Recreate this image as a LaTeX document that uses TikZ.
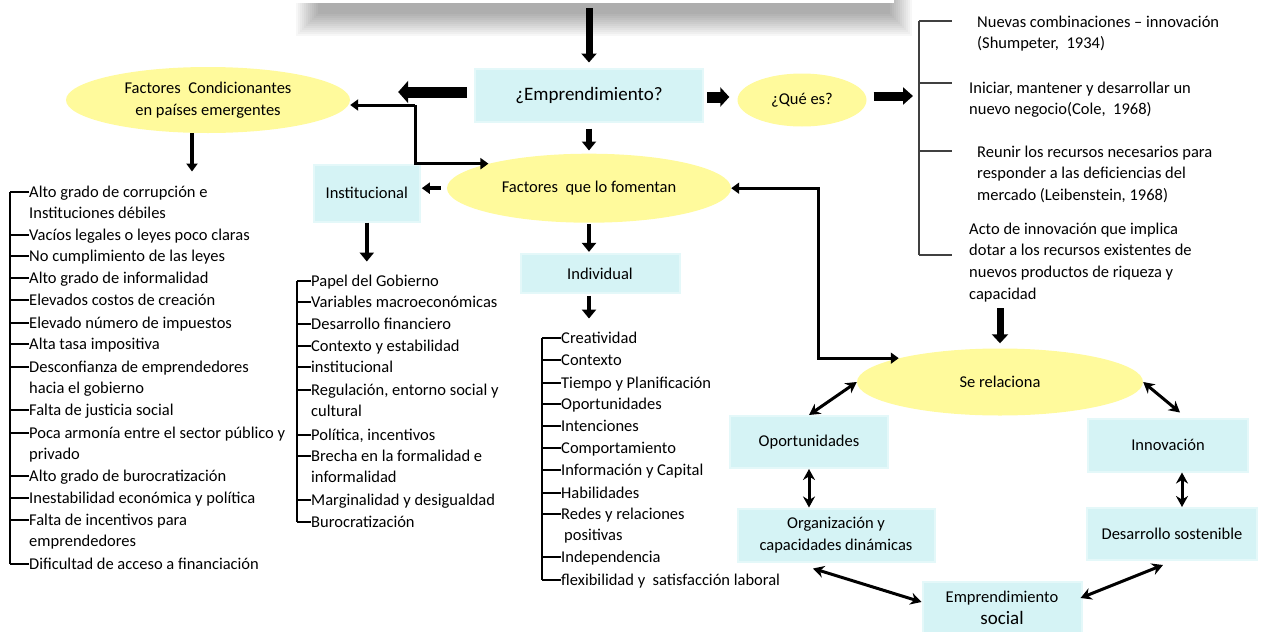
\documentclass[tikz,border=0pt]{standalone}
\usepackage{fontspec}
\setmainfont{Carlito}
\usetikzlibrary{arrows.meta}
\usetikzlibrary{positioning}
\usetikzlibrary{shapes.geometric}
\usetikzlibrary{calc}
\definecolor{celeste}{HTML}{D5F3F5}
\definecolor{celesteborde}{HTML}{E4F8F9}
\definecolor{amarillo}{HTML}{FFFA9C}
\newcommand{\cuerpo}{\fontsize{16.5}{21.8}\selectfont}
\newcommand{\grande}{\fontsize{19}{22}\selectfont}
\newcommand{\renglones}[1]{\begin{tabular}[t]{@{}l@{}}#1\end{tabular}}
\tikzstyle{cuadro} = [rectangle, fill=celeste, draw=celesteborde, line width=2pt,
    align=center, inner sep=2pt]
\tikzstyle{ovalo} = [ellipse, fill=amarillo, align=center, inner sep=0pt]
\tikzstyle{punto} = [anchor=base west, inner sep=0pt]
\tikzstyle{rama} = [line width=1.1pt]
\tikzstyle{flecha} = [->, line width=3.5pt]
\tikzstyle{recta} = [-{Triangle[length=9pt,width=14pt]}, line width=5pt]
\tikzstyle{bloque} = [-{Triangle[length=10pt,width=22pt]}, line width=11pt]
\tikzstyle{doble} = [{Stealth[length=11pt,width=12pt]}-{Stealth[length=11pt,width=12pt]}, line width=3pt]

\begin{document}
\begin{tikzpicture}[x=1pt, y=-1pt, >={Triangle[length=8pt,width=11pt]},
    every node/.style={font=\cuerpo}]
    \useasboundingbox (0,0) rectangle (1264,632);

    % cuadro de arriba con su sombra
    \foreach \k in {0,...,11}
        \fill[black, opacity=0.03] (296+2*\k,-10) rectangle (912-2*\k,36-2*\k);
    \node[rectangle, fill=white, minimum width=604pt, minimum height=30pt] (titulo) at (592,-12) {};

    \node[cuadro, minimum width=228pt, minimum height=53pt, font=\grande] (emp) at (589,95) {¿Emprendimiento?};
    \node[ovalo, minimum width=129pt, minimum height=53pt] (que) at (802,100) {¿Qué es?};
    \node[ovalo, minimum width=284pt, minimum height=66pt] (cond) at (208,100) {Factores\ \ Condicionantes\\en países emergentes};
    \node[ovalo, below=31pt of emp, minimum width=284pt, minimum height=69pt] (fom) {Factores\ \ que lo fomentan};
    \node[cuadro, left=26pt of fom, yshift=-5pt, minimum width=106pt, minimum height=57pt] (inst) {Institucional};
    \node[cuadro, below=30pt of fom, xshift=11pt, minimum width=159pt, minimum height=39pt] (ind) {Individual};

    \node[ovalo, minimum width=286pt, minimum height=67pt] (serel) at (1000,382) {Se relaciona};
    \node[cuadro, minimum width=158pt, minimum height=52pt] (opp) at (809,442) {Oportunidades};
    \node[cuadro, minimum width=197pt, minimum height=53pt] (org) at (836,535) {Organización y\\capacidades dinámicas};
    \node[cuadro, minimum width=160pt, minimum height=53pt] (inn) at (1168,445) {Innovación};
    \node[cuadro, minimum width=170pt, minimum height=52pt] (des) at (1172,534) {Desarrollo sostenible};
    \node[cuadro, minimum width=159pt, minimum height=52pt] (soc) at (1002,608) {Emprendimiento\\{\grande social}};

    % listas
    \foreach \y/\txt [count=\n] in {192/{Alto grado de corrupción e\\Instituciones débiles},
        235/{Vacíos legales o leyes poco claras}, 256/{No cumplimiento de las leyes},
        278/{Alto grado de informalidad}, 300/{Elevados costos de creación},
        323/{Elevado número de impuestos}, 344/{Alta tasa impositiva},
        367/{Desconfianza de emprendedores\\hacia el gobierno}, 410/{Falta de justicia social},
        433/{Poca armonía entre el sector público y\\privado}, 476/{Alto grado de burocratización},
        498/{Inestabilidad económica y política}, 520/{Falta de incentivos para\\emprendedores},
        564/{Dificultad de acceso a financiación}}
    {
        \node[punto] (izq\n) at (29,\y+5) {\renglones{\txt}};
        \draw[rama] ([yshift=5pt]izq\n.base west) -- ++(-19,0);
    }
    \draw[rama] ([shift={(-19pt,5pt)}]izq1.base west) -- ([shift={(-19pt,5pt)}]izq14.base west);

    \foreach \y/\txt [count=\n] in {281/{Papel del Gobierno}, 302/{Variables macroeconómicas},
        324/{Desarrollo financiero}, 346/{Contexto y estabilidad}, 367/{institucional},
        390/{Regulación, entorno social y\\cultural}, 435/{Política, incentivos},
        456/{Brecha en la formalidad e\\informalidad}, 500/{Marginalidad y desigualdad},
        522/{Burocratización}}
    {
        \node[punto] (ins\n) at (311,\y+5) {\renglones{\txt}};
        \draw[rama] ([yshift=5pt]ins\n.base west) -- ++(-14,0);
    }
    \draw[rama] ([shift={(-14pt,5pt)}]ins1.base west) -- ([shift={(-14pt,5pt)}]ins10.base west);

    \foreach \y/\txt [count=\n] in {338/{Creatividad}, 360/{Contexto},
        383/{Tiempo y Planificación}, 404/{Oportunidades}, 426/{Intenciones},
        448/{Comportamiento}, 470/{Información y Capital}, 493/{Habilidades},
        514/{Redes y relaciones\\\hspace{3pt}positivas}, 557/{Independencia},
        580/{flexibilidad y\ \ satisfacción laboral}}
    {
        \node[punto] (indl\n) at (561,\y+5) {\renglones{\txt}};
        \draw[rama] ([yshift=5pt]indl\n.base west) -- ++(-19,0);
    }
    \draw[rama] ([shift={(-19pt,5pt)}]indl1.base west) -- ([shift={(-19pt,5pt)}]indl11.base west);

    \node[punto] (def1) at (977,27) {\renglones{Nuevas combinaciones – innovación\\(Shumpeter,\ \ 1934)}};
    \node[punto] (def2) at (969,93) {\renglones{Iniciar, mantener y desarrollar un\\nuevo negocio(Cole,\ \ 1968)}};
    \node[punto] (def3) at (977,157) {\renglones{Reunir los recursos necesarios para\\responder a las deficiencias del\\mercado (Leibenstein, 1968)}};
    \node[punto] (def4) at (969,234) {\renglones{Acto de innovación que implica\\dotar a los recursos existentes de\\nuevos productos de riqueza y\\capacidad}};
    \draw[rama, black!75] (919,21) -- (919,255);
    \foreach \y in {21,83,151,255}
        \draw[rama, black!75] (919,\y) -- (952,\y);

    \coordinate (defin) at (919,96);
    \coordinate (cruce) at (415,105);
    \coordinate (codo) at (818,0);

    % flechas
    \draw[recta, line width=7pt, -{Triangle[length=9pt,width=15pt]}, shorten <=5pt, shorten >=5pt] (titulo.south -| emp.north) -- (emp.north);
    \draw[bloque, shorten <=7pt, shorten >=48pt] ([yshift=3pt]emp.west) -- ([yshift=3pt]emp.west -| cond.east);
    \draw[flecha, line width=3pt] (cruce) -- (cruce -| cond.east);
    \draw[flecha, line width=3pt] (cruce) |- (fom.north west);
    \draw[bloque, -{Triangle[length=9pt,width=19pt]}, shorten <=3pt, shorten >=8pt] ([yshift=-2pt]emp.east) -- ([yshift=-2pt]emp.east -| que.west);
    \draw[bloque, line width=9pt, -{Triangle[length=10pt,width=17pt]}, shorten <=7pt, shorten >=6pt] (que.east |- defin) -- (defin);
    \draw[recta, line width=6pt, shorten <=6pt, shorten >=3pt] (emp.south) -- (emp.south |- fom.north);
    \draw[flecha, shorten <=6pt, shorten >=1pt] (fom.west) -- (fom.west -| inst.east);
    \draw[recta, line width=4.5pt, shorten >=9pt] (inst.south) -- (inst.south |- ins1.north);
    \draw[recta, line width=4.5pt, shorten <=1pt, shorten >=1pt] (fom.south) -- (fom.south |- ind.north);
    \draw[recta, line width=4.5pt, shorten <=2pt, shorten >=9pt] (fom.south |- ind.south) -- (fom.south |- indl1.north);
    \draw[flecha, shorten >=10pt] ([xshift=-16pt]cond.south) -- ([xshift=-16pt]cond.south |- izq1.north);
    \draw[flecha, <->, line width=3pt] (fom.east) -- (fom.east -| codo) -- (codo |- serel.north west) -- (serel.north west);
    \draw[recta, line width=7pt, -{Triangle[length=9pt,width=16pt]}, shorten <=2pt, shorten >=5pt] (def4.south -| serel.north) -- (serel.north);

    \draw[doble] (serel.west) -- (opp.north);
    \draw[doble] (serel.east) -- ($(inn.north)+(12,-5)$);
    \draw[doble] (opp.south) -- (opp.south |- org.north);
    \draw[doble] ($(inn.south)+(14,0)$) -- ($(des.north)+(10,0)$);
    \draw[doble] ($(org.south)+(-23,6)$) -- ($(soc.west)+(0,-6)$);
    \draw[doble] ($(des.south)+(-9,4)$) -- ($(soc.east)+(-2,-10)$);
\end{tikzpicture}
\end{document}
